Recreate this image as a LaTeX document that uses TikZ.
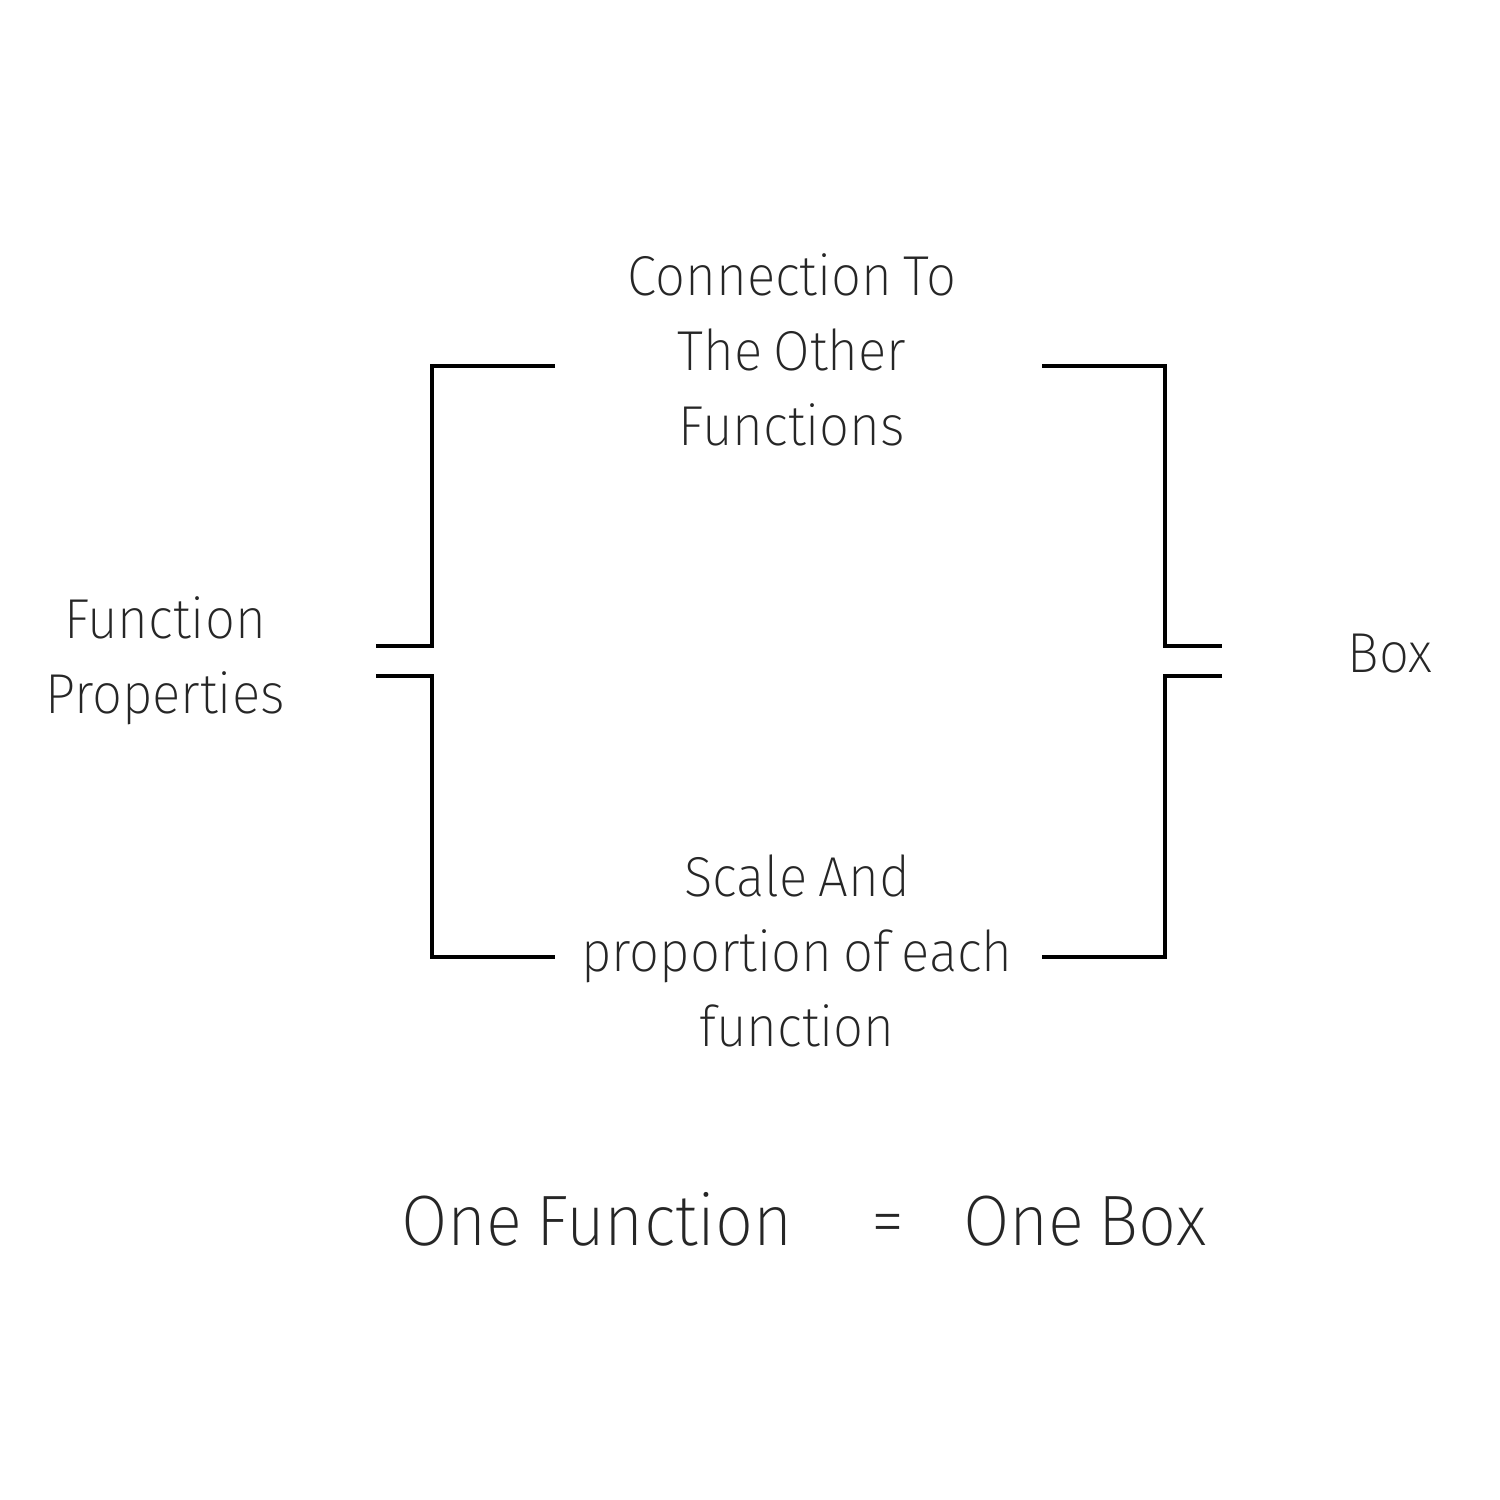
\documentclass[tikz,border=0pt]{standalone}
\usepackage{fontspec}
\setmainfont{Fira Sans ExtraLight}[FakeStretch=0.94, WordSpace=0.75]
\begin{document}
\begin{tikzpicture}[x=0.01cm,y=-0.01cm,
  brk/.style={line width=0.9pt, black},
  lbl/.style={align=center, text=black!85, font=\fontsize{16}{21.3}\selectfont, inner sep=0pt},
  big/.style={text=black!85, font=\fontsize{20.3}{24}\selectfont, inner sep=0pt}]
\useasboundingbox (0,0) rectangle (1500,1500);
% bracket corner coordinates
\coordinate (lt) at (555,366);
\coordinate (lb) at (555,957);
\coordinate (lm1) at (376,646);
\coordinate (lm2) at (376,676);
\coordinate (rt) at (1042,366);
\coordinate (rb) at (1042,957);
\coordinate (rm1) at (1222,646);
\coordinate (rm2) at (1222,676);
\draw[brk] (lt) -- (432,366) -- (432,646) -- (lm1);
\draw[brk] (lm2) -- (432,676) -- (432,957) -- (lb);
\draw[brk] (rt) -- (1165,366) -- (1165,646) -- (rm1);
\draw[brk] (rm2) -- (1165,676) -- (1165,957) -- (rb);
\node[lbl] (top) at (792,350) {Connection To\\The Other\\Functions};
\node[lbl] (left) at (165,661) {Function\\Properties};
\node[lbl] (right) at (1390,654) {Box};
\node[lbl] (bot) at (797,951) {Scale And\\proportion of each\\function};
\node[big,anchor=base] (f1) at (597,1245) {One Function};
\node[big,anchor=base] (eq) at (888,1245) {=};
\node[big,anchor=base] (f2) at (1085,1245) {One Box};
\end{tikzpicture}
\end{document}
